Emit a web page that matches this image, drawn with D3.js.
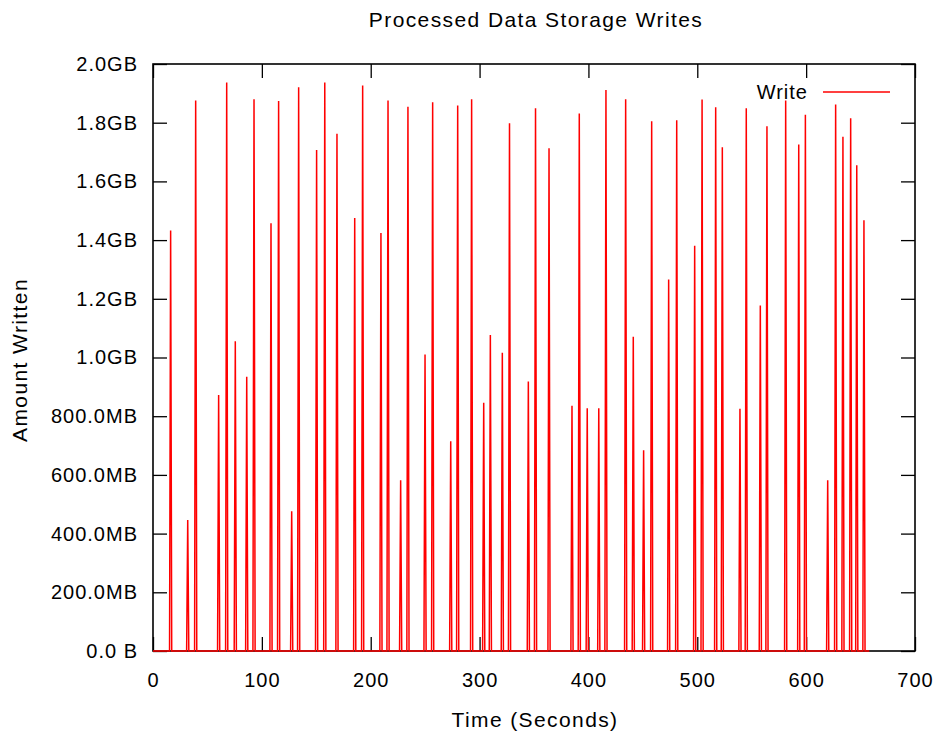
<!DOCTYPE html>
<html>
<head>
<meta charset="utf-8">
<script src="https://cdn.jsdelivr.net/npm/d3@7"></script>
<style>
  body { margin: 0; background: #fff; }
  svg { display: block; font-family: "Liberation Sans", Arial, sans-serif; }
  .tick text { font-size: 20px; fill: #000; letter-spacing: 1px; }
  .lbl { font-size: 20px; fill: #000; letter-spacing: 1px; }
  .ttl { font-size: 21px; fill: #000; letter-spacing: 1.4px; }
</style>
</head>
<body>
<svg id="chart" width="939" height="738"></svg>
<script>
// write bursts: time of each spike (seconds) and amount written (MB)
const spikeTimes = [
  16.2, 31.9, 39.2, 60.3, 67.7, 75.6, 86.1, 92.8, 108.4, 115.4,
  127.4, 133.8, 150.3, 157.8, 169.0, 185.3, 192.6, 209.4, 215.9, 227.5,
  234.2, 249.9, 256.9, 273.5, 279.9, 292.7, 303.8, 309.9, 320.9, 327.5,
  344.8, 351.4, 363.8, 384.9, 391.6, 398.9, 409.5, 416.1, 434.2, 441.2,
  450.7, 458.1, 473.7, 481.1, 497.6, 504.4, 516.9, 523.0, 539.2, 545.0,
  557.9, 564.0, 581.2, 593.2, 599.3, 619.8, 627.1, 633.8, 640.9, 646.5,
  653.1
];
const spikeMB = [
  1433, 446, 1876, 872, 1937, 1055, 934, 1880, 1457, 1874,
  476, 1921, 1707, 1937, 1762, 1475, 1927, 1424, 1876, 582,
  1854, 1010, 1870, 715, 1859, 1880, 846, 1077, 1016, 1798,
  918, 1849, 1713, 836, 1831, 827, 827, 1911, 1880, 1071,
  684, 1805, 1266, 1808, 1381, 1879, 1853, 1716, 825, 1849,
  1177, 1788, 1876, 1726, 1827, 582, 1862, 1752, 1815, 1655,
  1468
];
const startTime = 0;
const endTime = 658;

const xTicks = [0, 100, 200, 300, 400, 500, 600, 700];
const yTicks = [0, 200, 400, 600, 800, 1000, 1200, 1400, 1600, 1800, 2000];
const yTickLabels = ["0.0 B", "200.0MB", "400.0MB", "600.0MB", "800.0MB",
  "1.0GB", "1.2GB", "1.4GB", "1.6GB", "1.8GB", "2.0GB"];

const svg = d3.select("#chart");
const plotLeft = 153, plotRight = 915, plotTop = 64, plotBottom = 651;

const x = d3.scaleLinear().domain([0, 700]).range([plotLeft, plotRight]);
const y = d3.scaleLinear().domain([0, 2000]).range([plotBottom, plotTop]);

// samples: zero between bursts, one sample at each peak
const series = [[startTime, 0]];
spikeTimes.forEach((t, i) => {
  series.push([t - 1, 0], [t, spikeMB[i]], [t + 1, 0]);
});
series.push([endTime, 0]);

// axes with inward ticks, mirrored on top and right
svg.append("g")
  .attr("transform", `translate(${plotLeft},0)`)
  .call(d3.axisLeft(y).tickValues(yTicks).tickSize(-14).tickPadding(15)
    .tickFormat((d, i) => yTickLabels[i]));

svg.append("g")
  .attr("transform", `translate(${plotRight},0)`)
  .call(d3.axisRight(y).tickValues(yTicks).tickSize(-14).tickFormat(""));

svg.append("g")
  .attr("transform", `translate(0,${plotBottom})`)
  .call(d3.axisBottom(x).tickValues(xTicks).tickSize(-14).tickPadding(22)
    .tickFormat(d3.format("d")));

svg.append("g")
  .attr("transform", `translate(0,${plotTop})`)
  .call(d3.axisTop(x).tickValues(xTicks).tickSize(-14).tickFormat(""));

svg.selectAll(".domain").remove();
svg.selectAll(".tick line").attr("stroke", "#000").attr("stroke-width", 1.3);

svg.append("rect")
  .attr("x", plotLeft).attr("y", plotTop)
  .attr("width", plotRight - plotLeft).attr("height", plotBottom - plotTop)
  .attr("fill", "none").attr("stroke", "#000").attr("stroke-width", 1.6);

// data line
const line = d3.line().x(d => x(d[0])).y(d => y(d[1]));
svg.append("path")
  .datum(series)
  .attr("d", line)
  .attr("fill", "none")
  .attr("stroke", "#ff0000")
  .attr("stroke-width", 1.5)
  .attr("stroke-linejoin", "miter");

// legend
svg.append("text").attr("class", "lbl")
  .attr("x", 808).attr("y", 99).attr("text-anchor", "end").text("Write");
svg.append("line")
  .attr("x1", 823).attr("x2", 890).attr("y1", 92).attr("y2", 92)
  .attr("stroke", "#ff0000").attr("stroke-width", 1.3);

// titles
svg.append("text").attr("class", "ttl")
  .attr("x", 536).attr("y", 27).attr("text-anchor", "middle")
  .text("Processed Data Storage Writes");

svg.append("text").attr("class", "ttl")
  .attr("x", 535).attr("y", 727).attr("text-anchor", "middle")
  .text("Time (Seconds)");

svg.append("text").attr("class", "ttl")
  .attr("transform", "translate(27,360) rotate(-90)")
  .attr("text-anchor", "middle")
  .text("Amount Written");
</script>
</body>
</html>
